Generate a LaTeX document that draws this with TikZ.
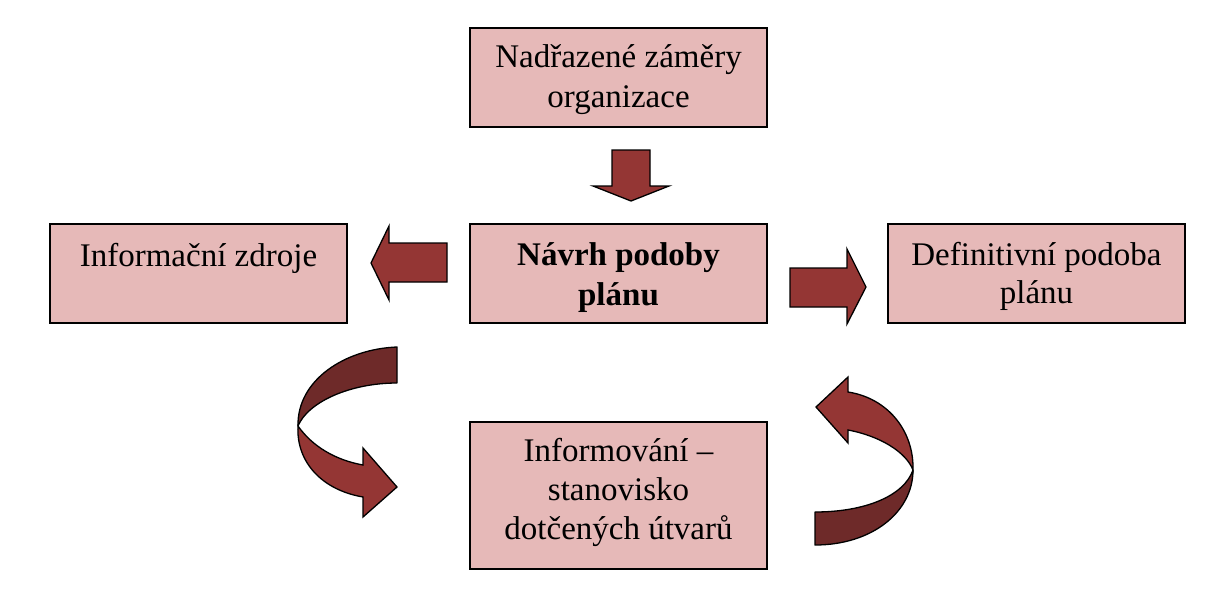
\documentclass[tikz,border=0pt]{standalone}
\usepackage{fontspec}
\setmainfont{Liberation Serif}
\definecolor{boxfill}{HTML}{E6B9B8}
\definecolor{arrowlight}{HTML}{943634}
\definecolor{arrowdark}{HTML}{6E2A29}
\begin{document}
\begin{tikzpicture}[x=1pt,y=-1pt,
  box/.style={draw=black, line width=1.4pt, fill=boxfill, minimum width=297pt, minimum height=99pt, inner sep=0pt},
  label/.style={anchor=base, align=center, inner sep=0pt, font=\fontsize{33}{39}\selectfont},
  blockarrow/.style={draw=black, line width=1.3pt, fill=arrowlight, line join=miter},
  darkpart/.style={draw=black, line width=1.3pt, fill=arrowdark, line join=round},
  lightpart/.style={draw=black, line width=1.3pt, fill=arrowlight, line join=miter}]
\useasboundingbox (0,0) rectangle (1209,610);
\fill[white] (0,0) rectangle (1209,610);
% boxes
\node[box] (top) at (618.5,77.5) {};
\node[box] (left) at (198.5,273.5) {};
\node[box] (center) at (618.5,273.5) {};
\node[box] (right) at (1036.5,273.5) {};
\node[box, minimum height=147pt] (bottom) at (618.5,495.5) {};
% texts (anchor base = baseline of last line)
\node[label, font=\fontsize{33}{40}\selectfont] (toptext) at ([yshift=-80pt]top.north) {Nadřazené záměry\\organizace};
\node[label] (lefttext) at ([yshift=-43pt]left.north) {Informační zdroje};
\node[label, font=\bfseries\fontsize{33}{40}\selectfont] (centertext) at ([yshift=-82pt]center.north) {Návrh podoby\\plánu};
\node[label, font=\fontsize{33}{38}\selectfont] (righttext) at ([yshift=-80pt]right.north) {Definitivní podoba\\plánu};
\node[label, font=\fontsize{33}{39}\selectfont] (bottomtext) at ([yshift=-118pt]bottom.north) {Informování –\\stanovisko\\dotčených útvarů};
% down arrow
\draw[blockarrow] (612,150) -- (650,150) -- (650,186) -- (669,186) -- (631,201) -- (593,186) -- (612,186) -- cycle;
% left arrow
\draw[blockarrow] (447,243) -- (389,243) -- (389,226) -- (371,263) -- (389,300) -- (389,282) -- (447,282) -- cycle;
% right arrow
\draw[blockarrow] (790,268) -- (847,268) -- (847,249) -- (866,287) -- (847,324) -- (847,307) -- (790,307) -- cycle;
% left curved arrow
\draw[darkpart] (397,347) .. controls (345,349) and (297,380) .. (298,426)
  .. controls (308,402) and (350,383) .. (397,383) -- cycle;
\draw[lightpart] (298,426) .. controls (312,446) and (335,460) .. (363,465)
  -- (363,448) -- (397,487) -- (363,517) -- (363,497)
  .. controls (322,490) and (296,462) .. (298,426) -- cycle;
% right curved arrow
\draw[darkpart] (815,545) .. controls (872,545) and (913,512) .. (913,470)
  .. controls (904,496) and (865,512) .. (815,512) -- cycle;
\draw[lightpart] (913,470) .. controls (914,430) and (887,398) .. (848,392)
  -- (848,377) -- (816,407) -- (848,443) -- (848,430)
  .. controls (880,436) and (906,452) .. (913,470) -- cycle;
\end{tikzpicture}
\end{document}
